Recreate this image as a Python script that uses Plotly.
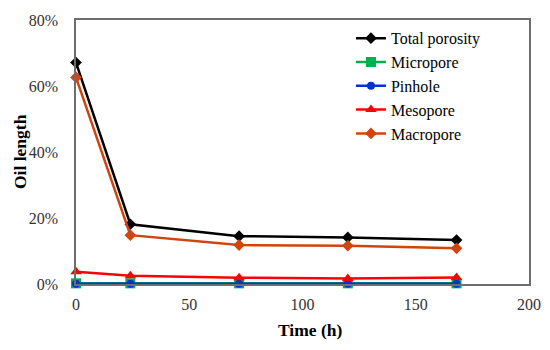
import plotly.graph_objects as go

time_h = [0, 24, 72, 120, 168]
total_porosity = [0.671, 0.181, 0.145, 0.141, 0.133]
micropore = [0.002, 0.002, 0.002, 0.002, 0.002]
pinhole = [0.001, 0.001, 0.001, 0.001, 0.001]
mesopore = [0.037, 0.025, 0.019, 0.017, 0.020]
macropore = [0.626, 0.148, 0.118, 0.116, 0.108]

x_title = "Time (h)"
y_title = "Oil length"

series = [
    ("Total porosity", total_porosity, "#000000", "diamond", 9),
    ("Micropore", micropore, "#00b050", "square", 10),
    ("Pinhole", pinhole, "#0033cc", "circle", 8),
    ("Mesopore", mesopore, "#ff0000", "triangle-up", 10),
    ("Macropore", macropore, "#d0450f", "diamond", 9),
]

fig = go.Figure()
for name, vals, color, sym, size in series:
    fig.add_trace(go.Scatter(
        x=time_h, y=vals, name=name, mode="lines+markers",
        line=dict(color=color, width=2.5),
        marker=dict(symbol=sym, size=size, color=color),
        cliponaxis=False,
    ))

font_family = "Liberation Serif, Times New Roman, serif"
title_font = dict(family=font_family, size=17.5, color="#000000")
fig.update_layout(
    width=550, height=350,
    margin=dict(l=76, r=21, t=20, b=66),
    paper_bgcolor="white", plot_bgcolor="white",
    font=dict(family=font_family, size=16, color="#333333"),
    legend=dict(x=0.607, y=0.995, xanchor="left", yanchor="top",
                font=dict(family=font_family, size=16, color="#000000"),
                bgcolor="rgba(0,0,0,0)", tracegroupgap=0, itemwidth=30),
    showlegend=True,
    annotations=[
        dict(text="<b>" + x_title + "</b>", xref="paper", yref="paper",
             x=0.5166, y=-0.174, xanchor="center", yanchor="middle",
             showarrow=False, font=title_font),
        dict(text="<b>" + y_title + "</b>", xref="paper", yref="paper",
             x=-0.1236, y=0.5, xanchor="center", yanchor="middle",
             textangle=-90, showarrow=False, font=title_font),
    ],
)
fig.update_xaxes(
    range=[0, 200], tickvals=[0, 50, 100, 150, 200],
    showgrid=False, zeroline=False, showline=True, linecolor="#6e6e6e", linewidth=1.5,
    mirror=True, ticks="", ticklen=0, automargin=False, ticklabelstandoff=5,
    tickfont=dict(family=font_family, size=16, color="#333333"),
)
fig.update_yaxes(
    range=[0, 0.8], tickvals=[0, 0.2, 0.4, 0.6, 0.8], tickformat=".0%",
    showgrid=False, zeroline=False, showline=True, linecolor="#6e6e6e", linewidth=1.5,
    mirror=True, ticks="", ticklen=0, automargin=False, ticklabelstandoff=13,
    tickfont=dict(family=font_family, size=16, color="#333333"),
)
fig.write_html("out.html", post_script="document.body.style.margin='0';",
               config={"displayModeBar": False})
